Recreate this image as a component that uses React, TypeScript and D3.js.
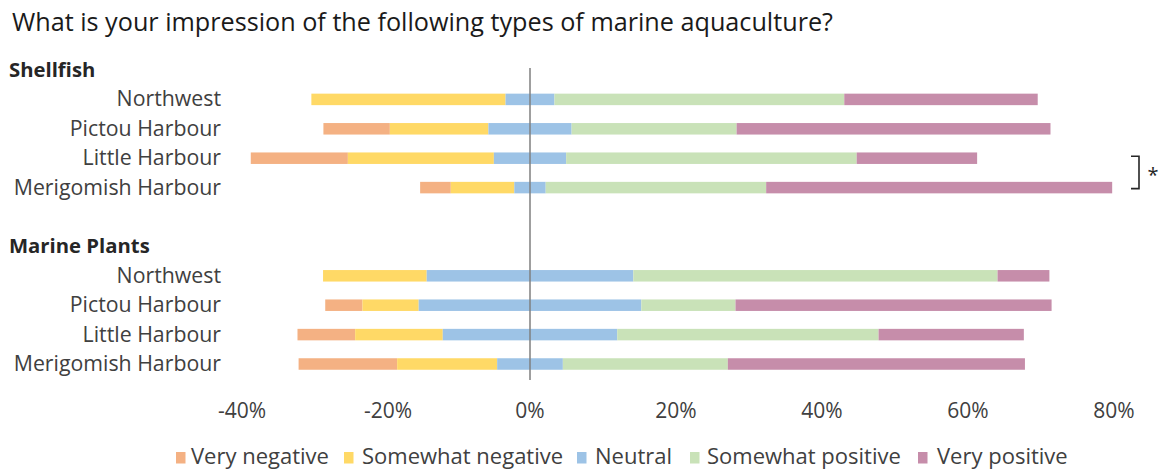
import React from "react";
import * as d3 from "d3";

const title = "What is your impression of the following types of marine aquaculture?";
const groups = ["Shellfish", "Marine Plants"];
const regions = ["Northwest", "Pictou Harbour", "Little Harbour", "Merigomish Harbour"];
const seriesNames = ["Very negative", "Somewhat negative", "Neutral", "Somewhat positive", "Very positive"];
const seriesColors = ["#F4B183", "#FFD966", "#9DC3E6", "#C9E2B8", "#C68DAA"];

// values in % : [very neg, somewhat neg, neutral, somewhat pos, very pos]
const shellfishValues = [
  [0, 26.6, 6.7, 39.7, 26.5],
  [9.1, 13.5, 11.4, 22.6, 43.0],
  [13.3, 20.0, 9.9, 39.8, 16.5],
  [4.2, 8.7, 4.3, 30.2, 47.4],
];
const plantValues = [
  [0, 14.2, 28.3, 49.9, 7.1],
  [5.1, 7.7, 30.5, 12.9, 43.3],
  [7.9, 12.0, 23.9, 35.8, 19.9],
  [13.5, 13.7, 9.0, 22.6, 40.7],
];
const tickValues = [-40, -20, 0, 20, 40, 60, 80];

const FONT = "'Open Sans', 'Noto Sans', sans-serif";

export default function App() {
  const W = 1161;
  const H = 472;
  const x = d3.scaleLinear().domain([-40, 80]).range([238, 1114]);

  const rowKeys: string[] = [];
  groups.forEach((g, gi) => {
    rowKeys.push(`h-${gi}`);
    regions.forEach((r, ri) => rowKeys.push(`r-${gi}-${ri}`));
    if (gi < groups.length - 1) rowKeys.push(`blank-${gi}`);
  });
  const y = d3.scalePoint<string>().domain(rowKeys).range([70, 364]);
  const barH = 11.5;

  const allValues = [shellfishValues, plantValues];

  const bars: React.ReactNode[] = [];
  allValues.forEach((gv, gi) => {
    gv.forEach((vals, ri) => {
      const cy = y(`r-${gi}-${ri}`)!;
      let start = -(vals[0] + vals[1] + vals[2] / 2);
      vals.forEach((v, si) => {
        const x0 = x(start);
        const x1 = x(start + v);
        start += v;
        if (v <= 0) return;
        bars.push(
          <rect key={`b-${gi}-${ri}-${si}`} x={x0} y={cy - barH / 2} width={x1 - x0} height={barH} fill={seriesColors[si]} />
        );
      });
    });
  });

  const legendSquareX = [176, 344, 577, 690, 918];
  const legendTextX = [191, 362, 595, 707, 937];

  const bracketTop = y("r-0-2")! - 2;
  const bracketBot = y("r-0-3")! + 1;

  return (
    <svg width={W} height={H} style={{ display: "block", position: "absolute", left: 0, top: 0 }} fontFamily={FONT}>
      <rect width={W} height={H} fill="#fff" />
      <text x={12} y={31} fontSize={25.2} fill="#1a1a1a">{title}</text>
      {groups.map((g, gi) => (
        <text key={g} x={9} y={y(`h-${gi}`)! + 7} fontSize={20.3} fontWeight={700} fill="#262626">{g}</text>
      ))}
      {groups.map((g, gi) =>
        regions.map((r, ri) => (
          <text key={`${g}-${r}`} x={221} y={y(`r-${gi}-${ri}`)! + 7} fontSize={21.3} fill="#404040" textAnchor="end">{r}</text>
        ))
      )}
      {bars}
      <line x1={x(0)} x2={x(0)} y1={68} y2={380} stroke="#7F7F7F" strokeWidth={1.5} />
      {tickValues.map((t) => (
        <text key={t} x={x(t) + (t < 0 ? 4 : 0)} y={418} fontSize={21} fill="#404040" textAnchor="middle">{`${t}%`}</text>
      ))}
      {seriesNames.map((s, i) => (
        <g key={s}>
          <rect x={legendSquareX[i]} y={452} width={9.5} height={11.5} fill={seriesColors[i]} />
          <text x={legendTextX[i]} y={464} fontSize={22} fill="#404040">{s}</text>
        </g>
      ))}
      <path d={`M1131,${bracketTop}H1139V${bracketBot}H1131`} fill="none" stroke="#262626" strokeWidth={1.6} />
      <text x={1153} y={182} fontSize={20} fill="#262626" textAnchor="middle">*</text>
    </svg>
  );
}
